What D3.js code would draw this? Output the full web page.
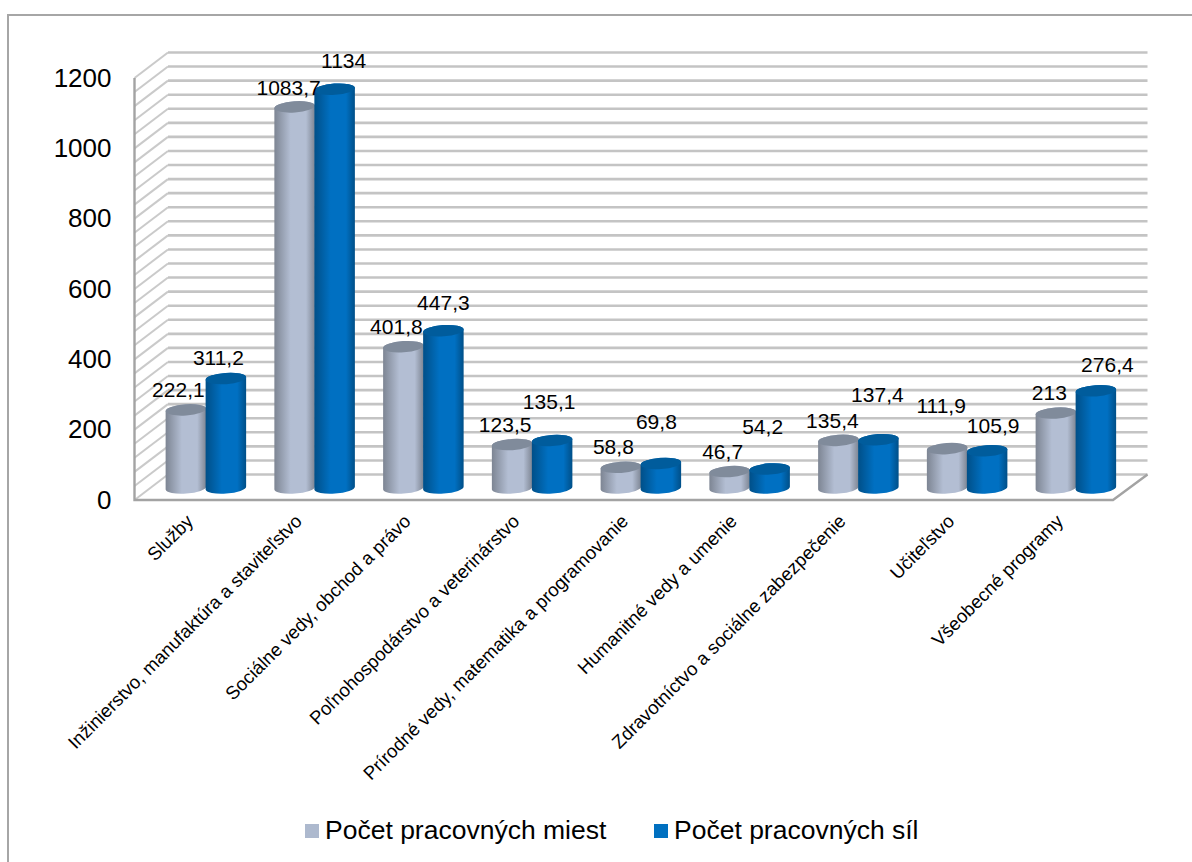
<!DOCTYPE html>
<html><head><meta charset="utf-8">
<script src="https://cdn.jsdelivr.net/npm/d3@7/dist/d3.min.js"></script>
<style>html,body{margin:0;padding:0;background:#fff}svg{display:block}text{font-family:"Liberation Sans",Arial,sans-serif;fill:#000}</style>
</head><body><div id="c"></div>
<script>
const categories = ["Služby","Inžinierstvo, manufaktúra a staviteľstvo","Sociálne vedy, obchod a právo","Poľnohospodárstvo a veterinárstvo","Prírodné vedy, matematika a programovanie","Humanitné vedy a umenie","Zdravotníctvo a sociálne zabezpečenie","Učiteľstvo","Všeobecné programy"];
const seriesNames = ["Počet pracovných miest","Počet pracovných síl"];
const miesta = [222.1,1083.7,401.8,123.5,58.8,46.7,135.4,111.9,213];
const sily = [311.2,1134,447.3,135.1,69.8,54.2,137.4,105.9,276.4];
const yTicks = [0,200,400,600,800,1000,1200];
const gridStep = 40;
// manual data-label nudges as in the source chart
const nudgeMiesta = [[-7.5,-13],[-6,-12],[-7,-13],[-7,-13],[-7.5,-13],[-7,-13],[-6,-12],[-6,-36],[-6.5,-13]];
const nudgeSily = [[-7.5,-13.6],[9,-21],[0,-21],[-3,-31],[-4.5,-34],[-7,-35],[-1,-38],[6,-18],[11.5,-19]];

const W=1192,H=862;
const svg=d3.select("#c").append("svg").attr("width",W).attr("height",H);
const defs=svg.append("defs");
function grad(id,e,m){
  const g=defs.append("linearGradient").attr("id",id).attr("x1",0).attr("x2",1).attr("y1",0).attr("y2",0);
  [[0,e],[.4,m],[.78,m],[1,e]].forEach(s=>g.append("stop").attr("offset",s[0]).attr("stop-color",s[1]));
}
grad("gg","#7d8593","#b3bed3");
grad("gb","#004f88","#0070c2");

const frame={x:8,y:15};
svg.append("path").attr("d",`M${frame.x},${H+5}V${frame.y}H${W+5}`).attr("fill","none").attr("stroke","#a6a6a6").attr("stroke-width",2);

const front={l:134.5,r:1113,b:500};
const depth={x:33.5,y:25.5};
const h=d3.scaleLinear().domain([0,1200]).range([0,422]);
const yFront=d3.scaleLinear().domain([0,1200]).range([front.b,front.b-422]);
const x=d3.scaleBand().domain(categories).range([151.5,1130.25]).paddingInner(0).paddingOuter(0);
const barW=40;
const groupCenter=c=>x(c)+x.bandwidth()/2;

const grid=d3.range(0,1200+gridStep,gridStep);
const G=svg.append("g");
// side wall lines
G.selectAll("line.s").data(grid).join("line").attr("class","s")
 .attr("x1",front.l).attr("x2",front.l+depth.x)
 .attr("y1",d=>yFront(d)).attr("y2",d=>yFront(d)-depth.y)
 .attr("stroke","#cacaca").attr("stroke-width",2);
// back wall lines
G.selectAll("line.b").data(grid).join("line").attr("class","b")
 .attr("x1",front.l+depth.x).attr("x2",front.r+depth.x+1)
 .attr("y1",d=>yFront(d)-depth.y).attr("y2",d=>yFront(d)-depth.y)
 .attr("stroke","#c4c4c4").attr("stroke-width",2.6);
// frame of the floor and wall
G.append("path").attr("d",`M${front.l},${yFront(1200)}V${front.b}H${front.r}L${front.r+depth.x+1},${front.b-depth.y}`)
 .attr("fill","none").attr("stroke","#a3a3a3").attr("stroke-width",2.4);

// y axis
const ax=svg.append("g").attr("transform","translate(111.5,0)")
 .call(d3.axisLeft(yFront).tickValues(yTicks).tickSize(0).tickPadding(0).tickFormat(d3.format("d")));
ax.select(".domain").remove();
ax.selectAll("text").style("font-size","26px").style("font-family",'"Liberation Sans",Arial,sans-serif').attr("fill","#000");

// cylinders
const baseY=488, rx=20.3, ry=5.6, tilt=-4;
const rad=tilt*Math.PI/180;
function cyl(g,cx,val,fillId,top){
  const tY=baseY-h(val);
  const dx=rx*Math.cos(rad),dy=rx*Math.sin(rad);
  g.append("path").attr("fill",`url(#${fillId})`)
   .attr("d",`M${cx-dx},${tY-dy}L${cx-dx},${baseY-dy}A${rx},${ry} ${tilt} 0 0 ${cx+dx},${baseY+dy}L${cx+dx},${tY+dy}A${rx},${ry} ${tilt} 0 0 ${cx-dx},${tY-dy}Z`);
  g.append("ellipse").attr("cx",cx).attr("cy",tY).attr("rx",rx).attr("ry",ry)
   .attr("transform",`rotate(${tilt} ${cx} ${tY})`).attr("fill",top);
}
const bars=svg.append("g");
categories.forEach((c,i)=>{
  const g=bars.append("g");
  cyl(g,groupCenter(c)-barW/2,miesta[i],"gg","#808b9b");
  cyl(g,groupCenter(c)+barW/2,sily[i],"gb","#005c9c");
});
const fmt=v=>String(v).replace(".",",");
const labels=svg.append("g").style("font-size","21px").attr("text-anchor","middle");
categories.forEach((c,i)=>{
  labels.append("text").attr("x",groupCenter(c)-barW/2+nudgeMiesta[i][0]).attr("y",baseY-h(miesta[i])+nudgeMiesta[i][1]).text(fmt(miesta[i]));
  labels.append("text").attr("x",groupCenter(c)+barW/2+nudgeSily[i][0]).attr("y",baseY-h(sily[i])+nudgeSily[i][1]).text(fmt(sily[i]));
});
// category labels
const cats=svg.append("g").style("font-size","18.6px").attr("text-anchor","end");
categories.forEach(c=>{
  const px=groupCenter(c)-11.5, py=522.5;
  cats.append("text").attr("transform",`translate(${px},${py}) rotate(-45)`).text(c);
});
// legend
const legendX=[305,654], swatch=["#adb9ce","#0070c0"];
seriesNames.forEach((n,i)=>{
  svg.append("rect").attr("x",legendX[i]).attr("y",824).attr("width",14).attr("height",14).attr("fill",swatch[i]);
  svg.append("text").attr("x",legendX[i]+20).attr("y",839).style("font-size","26.5px").text(n);
});
</script></body></html>
